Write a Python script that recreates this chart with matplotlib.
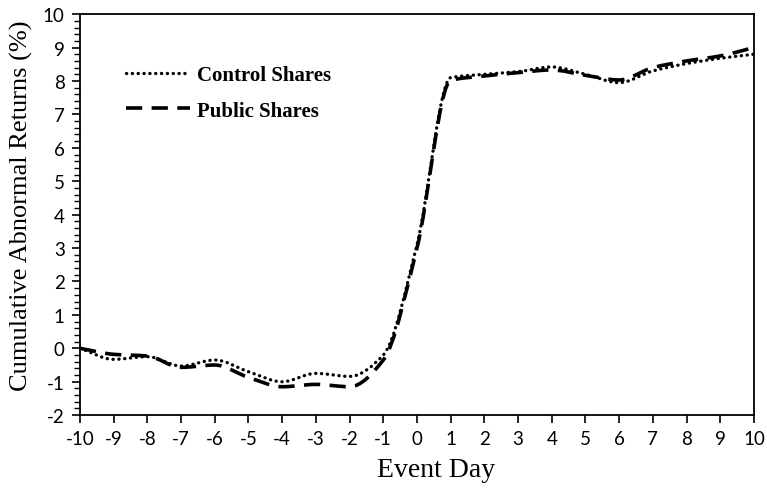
import numpy as np
import matplotlib
matplotlib.use("Agg")
import matplotlib.pyplot as plt
from matplotlib.path import Path
from matplotlib.patches import PathPatch
from matplotlib.lines import Line2D
from matplotlib.ticker import MultipleLocator

# event window and cumulative abnormal returns (%)
event_days = list(range(-10, 11))
control_car = [0.0, -0.33, -0.25, -0.53, -0.35, -0.7, -1.0, -0.75, -0.84, -0.2,
               3.1, 8.1, 8.2, 8.28, 8.42, 8.2, 7.95, 8.3, 8.52, 8.68, 8.8]
public_car = [0.0, -0.18, -0.23, -0.57, -0.5, -0.87, -1.15, -1.08, -1.15, -0.35,
              3.0, 8.02, 8.15, 8.25, 8.33, 8.17, 8.03, 8.4, 8.6, 8.75, 9.0]

SERIF = "Liberation Serif"
SANS = "Lato"
plt.rcParams["axes.unicode_minus"] = False


def smooth_path(xs, ys):
    """Smoothed path of cubic Bezier pieces with monotone (Fritsch-Carlson) tangents."""
    x = np.asarray(xs, float)
    y = np.asarray(ys, float)
    h = np.diff(x)
    d = np.diff(y) / h
    m = np.empty_like(y)
    m[0], m[-1] = d[0], d[-1]
    for i in range(1, len(y) - 1):
        a, b = d[i - 1], d[i]
        m[i] = 0.0 if a * b <= 0 else 2 * a * b / (a + b)
    verts = [(x[0], y[0])]
    codes = [Path.MOVETO]
    for i in range(len(x) - 1):
        verts += [(x[i] + h[i] / 3, y[i] + m[i] * h[i] / 3),
                  (x[i + 1] - h[i] / 3, y[i + 1] - m[i + 1] * h[i] / 3),
                  (x[i + 1], y[i + 1])]
        codes += [Path.CURVE4] * 3
    return Path(verts, codes)


dot_style = (0, (0.05, 1.7))
dash_style = (0, (4.5, 2.6))

fig = plt.figure(figsize=(7.67, 4.89), dpi=100)
ax = fig.add_axes([0.1043, 0.149, 0.8787, 0.820])

ax.add_patch(PathPatch(smooth_path(event_days, public_car), fill=False,
                       color="black", lw=2.6, linestyle=dash_style,
                       capstyle="butt"))
ax.add_patch(PathPatch(smooth_path(event_days, control_car), fill=False,
                       color="black", lw=2.4, linestyle=dot_style,
                       capstyle="round"))

ax.set_xlim(-10, 10)
ax.set_ylim(-2, 10)
ax.xaxis.set_major_locator(MultipleLocator(1))
ax.yaxis.set_major_locator(MultipleLocator(1))
ax.yaxis.set_minor_locator(MultipleLocator(0.2))
ax.tick_params(axis="both", which="major", direction="out", length=6,
               width=1.2, labelsize=13.5, pad=5)
ax.tick_params(axis="y", which="minor", direction="out", length=4, width=1)
for lab in ax.get_xticklabels() + ax.get_yticklabels():
    lab.set_fontfamily(SANS)
for sp in ax.spines.values():
    sp.set_linewidth(1.3)

ax.set_xlabel("Event Day", fontfamily=SERIF, fontsize=20)
ax.set_ylabel("Cumulative Abnormal Returns (%)", fontfamily=SERIF,
              fontsize=19)
ax.xaxis.set_label_coords(0.528, -0.105)
ax.yaxis.set_label_coords(-0.069, 0.524)

handles = [Line2D([], [], color="black", lw=2.4, linestyle=dot_style,
                  dash_capstyle="round"),
           Line2D([], [], color="black", lw=2.6, linestyle=dash_style)]
ax.legend(handles, ["Control Shares", "Public Shares"], loc="upper left",
          bbox_to_anchor=(0.04, 0.92), frameon=False, handlelength=3.1,
          handletextpad=0.3, labelspacing=0.75,
          prop={"family": SERIF, "size": 15, "weight": "bold"})

fig.savefig("out.png", dpi=100)
